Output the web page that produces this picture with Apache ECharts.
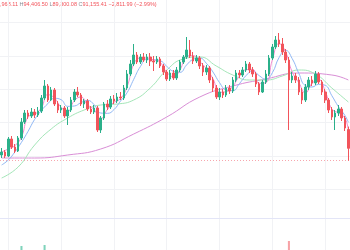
<!DOCTYPE html>
<html><head><meta charset="utf-8">
<script src="https://cdn.jsdelivr.net/npm/echarts@6/dist/echarts.min.js"></script>
<style>html,body{margin:0;padding:0;background:#fff}#c{width:350px;height:250px}</style>
</head><body><div id="c"></div>
<script>
// Daily candles (BTC/USD), dates
const categories = [
'08-05','08-06','08-07','08-08','08-09','08-10','08-11','08-12','08-13','08-14','08-15','08-16','08-17','08-18','08-19','08-20','08-21','08-22','08-23','08-24','08-25','08-26','08-27','08-28','08-29','08-30','08-31',
'09-01','09-02','09-03','09-04','09-05','09-06','09-07','09-08','09-09','09-10','09-11','09-12','09-13','09-14','09-15','09-16','09-17','09-18','09-19','09-20','09-21','09-22','09-23','09-24','09-25','09-26','09-27','09-28','09-29','09-30',
'10-01','10-02','10-03','10-04','10-05','10-06','10-07','10-08','10-09','10-10','10-11','10-12','10-13','10-14','10-15','10-16','10-17','10-18','10-19','10-20','10-21','10-22','10-23','10-24','10-25','10-26','10-27','10-28','10-29','10-30','10-31',
'11-01','11-02','11-03','11-04','11-05','11-06','11-07','11-08','11-09','11-10','11-11','11-12','11-13','11-14','11-15','11-16','11-17','11-18'];

// [open, close, low, high]
const candles = [
[90150,90600,89700,91200],[90600,90000,89700,90900],[90000,92550,89850,92850],[92550,91350,91050,93000],[91350,90750,90450,91800],
[90750,92700,90600,93000],[92700,95100,92400,95700],[95100,96450,94800,96900],[96450,96000,95550,96900],[96000,96600,95700,97200],
[96600,96150,95700,97050],[96150,96750,95850,97350],[96750,98700,96450,99150],[98700,100500,98400,101400],[100500,98400,98100,100800],
[98400,99900,98250,100350],[99900,97800,97500,100200],[97800,96900,96450,98250],[96900,97200,96450,97650],[97200,96000,95700,97500],
[96000,96900,94650,97350],[96900,98400,96600,98850],[98400,99600,98100,100050],[99600,99150,98850,100350],[99150,97800,97500,99450],
[97800,98250,97200,98550],[98250,97050,96750,98550],[97050,96600,96300,97500],[96600,97200,96300,97650],[97200,93900,93600,97500],
[93900,95700,93450,96000],[95700,97800,95400,98100],[97800,97350,96900,98400],[97350,98550,97050,99000],[98550,98250,97800,99150],
[98250,98850,97950,99450],[98850,98700,98400,99600],[98700,100200,98400,100650],[100200,102300,99900,102900],[102300,103800,102000,104400],
[103800,105150,103500,106800],[105150,104100,103800,105600],[104100,104850,103800,105300],[104850,104400,104100,105450],[104400,104850,103950,105300],
[104850,104250,103500,105450],[104250,104100,102750,105000],[104100,104550,103800,105000],[104550,103500,103200,104850],[103500,102600,102150,103800],
[102600,101550,101250,102900],[101550,102450,101250,102900],[102450,101700,101400,102900],[101700,102900,101400,103350],[102900,104100,102600,104400],
[104100,104850,103800,105150],[104850,105900,104550,107850],[105900,105000,104700,107400],[105000,104250,103800,105600],[104250,104700,103950,105150],
[104700,103500,103050,105000],[103500,102600,102000,103950],[102600,103200,102150,103650],[103200,101400,100950,103500],[101400,100200,99600,101850],
[100200,98850,98550,100650],[98850,99600,98400,100200],[99600,99150,98700,100050],[99150,100200,98850,100650],[100200,99750,99300,100650],
[99750,101400,99450,101850],[101400,102450,101100,102900],[102450,102150,101700,102900],[102150,102900,101850,103350],[102900,103800,102600,104250],
[103800,102900,102450,104100],[102900,102300,101850,103350],[102300,100800,100350,102600],[100800,99600,99150,101100],[99600,101100,99450,101400],
[101100,102300,100800,102900],[102300,104700,102000,105150],[104700,106350,104400,106800],[106350,107400,106050,108000],[107400,106800,106350,108450],
[106800,105600,105150,107700],[105600,104400,103950,106050],[104400,101400,93900,104850],[101400,102000,100950,102600],[102000,101400,100950,102450],
[101400,99600,99150,101850],[99600,98400,97800,100200],[98400,100350,98100,100800],[100350,101400,99900,101850],[101400,100950,100500,102000],
[100950,102300,100650,102750],[102300,101100,100800,102600],[101100,99600,99150,101400],[99600,98400,97950,100050],[98400,96900,96450,98700],
[96900,95850,95400,97350],[95850,96450,93900,96900],[96450,97050,96000,97650],[97050,95700,95250,97350],[95700,94200,93750,96000],
[93968.11,91155.41,89300.08,94406.50]
];

const volumes = [
22,18,30,25,21,34,72,48,26,20,
18,22,50,73,44,38,36,28,20,24,
33,30,35,29,31,24,27,22,19,45,
40,33,24,22,18,20,17,30,42,46,
55,40,30,26,22,24,28,20,26,30,
35,27,24,26,30,28,44,38,30,22,
28,30,24,36,40,43,35,25,27,23,
33,30,22,21,27,25,24,33,38,32,
30,40,44,46,42,38,36,77,40,28,
34,37,36,28,22,30,27,33,38,41,
43,45,30,34,40,60];

// moving averages: [candle index, value]
const maFast = [[0,90600],[2,91050],[4,91550],[6,92850],[8,95850],[10,96250],[12,97200],[14,99200],[16,98700],[18,97300],
[20,96700],[22,98300],[24,98850],[26,97700],[28,96950],[30,95600],[32,96950],[34,98050],[36,98600],[38,100400],
[40,103750],[42,104700],[44,104700],[46,104400],[48,104050],[50,102550],[52,101900],[54,102900],[56,104950],[58,105050],
[60,104150],[62,103100],[64,101600],[66,99550],[68,99650],[70,100450],[72,102000],[74,102950],[76,103000],[78,100900],
[80,101000],[82,104450],[84,106850],[86,105600],[88,102600],[90,101000],[92,99450],[94,100900],[96,101450],[98,99700],
[100,97050],[102,96450],[104,95650],[105,93700]];
const maMid = [[0,88650],[2,89400],[4,90600],[6,92050],[8,93700],[10,95500],[12,96800],[14,97850],[16,98650],[18,98450],
[20,97450],[22,97500],[24,98000],[26,98350],[28,97700],[30,96450],[32,96400],[34,96950],[36,98250],[38,99500],
[40,101500],[42,103400],[44,104500],[46,104450],[48,104300],[50,103450],[52,102700],[54,102550],[56,103650],[58,104500],
[60,104700],[62,103900],[64,102600],[66,101000],[68,99900],[70,99800],[72,100850],[74,102050],[76,102750],[78,102050],
[80,101500],[82,102500],[84,104750],[86,105850],[88,104600],[90,102400],[92,100550],[94,100350],[96,100750],[98,100600],
[100,99050],[102,97400],[104,96050],[105,95050]];
const maSlow = [[0,86700],[5,88350],[10,91650],[15,94050],[20,95700],[25,96900],[30,97650],[35,97800],[40,98400],[45,100200],
[50,102900],[55,104550],[60,104850],[65,103500],[70,102150],[75,101400],[80,101400],[85,102000],[90,102900],[95,102300],
[100,100200],[105,98100]];
const maLong = [[0,89700],[10,89700],[20,90150],[30,91050],[40,93300],[50,95850],[60,98850],[70,100500],[80,101550],[90,102450],
[100,102150],[105,101400]];

const priceGridLines = [110000,105000,100000,95000,90000,85000];
const timeGridIdx = [2,18,34,50,66,82,98];
const lastLow = 89300.08;
const legendLabels = ['O','H','L','C'];
const legendValues = ['93,968.11','94,406.50','89,300.08','91,155.41'];
const changeText = '−2,811.99 (−2.99%)';

const UP = '#2bb08a', DOWN = '#f2545b';

const chart = echarts.init(document.getElementById('c'), null, {renderer:'canvas'});
let rich = '';
legendLabels.forEach((l,i)=>{ rich += '{l|'+l+'}{v|'+legendValues[i]+'} '; });
rich += '{v|'+changeText+'}';

chart.setOption({
  animation:false,
  backgroundColor:'#ffffff',
  grid:[
    {left:0,right:0,top:0,bottom:0},
    {left:0,right:0,top:218,bottom:0}
  ],
  xAxis:[
    {type:'category',data:categories,gridIndex:0,boundaryGap:true,axisLine:{show:false},axisTick:{show:false},axisLabel:{show:false},splitLine:{show:false}},
    {type:'category',data:categories,gridIndex:1,position:'top',boundaryGap:true,axisLine:{show:true,lineStyle:{color:'#e3e5f7',width:1}},axisTick:{show:false},axisLabel:{show:false},splitLine:{show:false}}
  ],
  yAxis:[
    {type:'value',gridIndex:0,min:75900,max:113400,axisLine:{show:false},axisTick:{show:false},axisLabel:{show:false},splitLine:{show:false}},
    {type:'value',gridIndex:1,min:68,max:100,axisLine:{show:false},axisTick:{show:false},axisLabel:{show:false},splitLine:{show:false}}
  ],
  graphic:[{
    type:'text', left:-10.4, top:1,
    style:{
      text:rich,
      rich:{
        l:{fill:'#8a8d96',fontSize:5.5,fontFamily:'Liberation Sans, Arial'},
        v:{fill:'#f2545b',fontSize:5.5,fontFamily:'Liberation Sans, Arial'}
      },
      fontSize:5.5,fontFamily:'Liberation Sans, Arial',fill:'#f2545b'
    }
  }],
  series:[
    {
      type:'line', xAxisIndex:0, yAxisIndex:0, data:[], z:0, silent:true,
      markLine:{
        silent:true, symbol:['none','none'], z:0, animation:false,
        label:{show:false},
        lineStyle:{color:'#f1f2f5',width:1,type:'solid'},
        data: priceGridLines.map(v=>({yAxis:v})).concat(timeGridIdx.map(i=>({xAxis:categories[i]})))
      }
    },
    {
      type:'line', xAxisIndex:0, yAxisIndex:0, data:[], z:1, silent:true,
      markLine:{
        silent:true, symbol:['none','none'], z:1, animation:false,
        label:{show:false},
        lineStyle:{color:'#f7a6ad',width:1,type:[1,2]},
        data:[{yAxis:lastLow}]
      }
    },
    {type:'line',name:'MA long',data:maLong,smooth:true,showSymbol:false,symbol:'none',z:3,lineStyle:{color:'#d98ed6',width:1}},
    {type:'line',name:'MA slow',data:maSlow,smooth:true,showSymbol:false,symbol:'none',z:3,lineStyle:{color:'#a4e6b8',width:1}},
    {type:'line',name:'MA mid',data:maMid,smooth:true,showSymbol:false,symbol:'none',z:3,lineStyle:{color:'#90b8f5',width:1}},
    {type:'line',name:'MA fast',data:maFast,smooth:true,showSymbol:false,symbol:'none',z:3,lineStyle:{color:'#f28bd0',width:1}},
    {
      type:'candlestick', data:candles, z:4, barWidth:'62%',
      itemStyle:{color:UP,color0:DOWN,borderColor:UP,borderColor0:DOWN,borderWidth:1}
    },
    {
      type:'bar', xAxisIndex:1, yAxisIndex:1, barWidth:'62%', clip:true,
      data: volumes.map((v,i)=>({value:v,itemStyle:{color: candles[i][1]>=candles[i][0] ? '#7fd3bb' : '#f7a2a6'}}))
    }
  ]
});
</script></body></html>
